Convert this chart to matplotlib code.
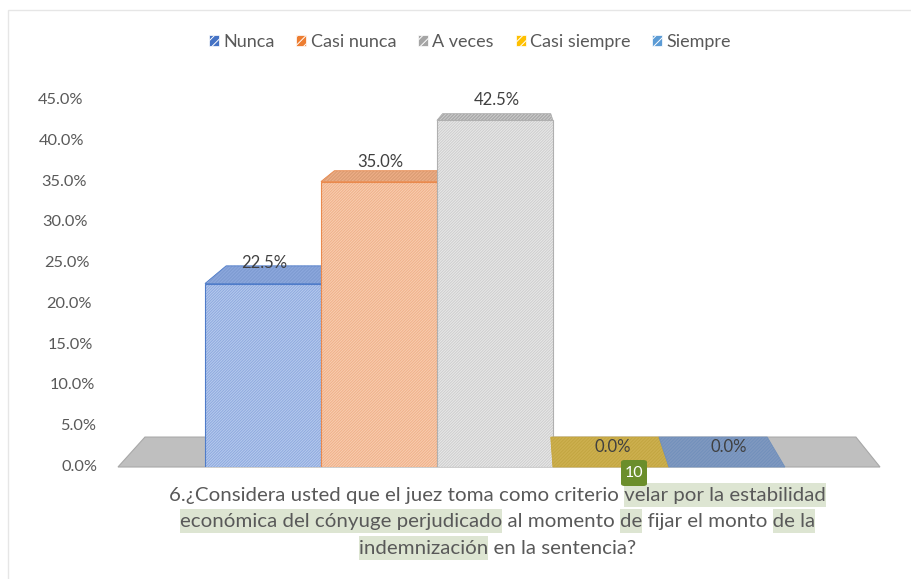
import matplotlib
matplotlib.use('Agg')
import matplotlib.pyplot as plt
from matplotlib.patches import Polygon, Rectangle, Patch, FancyBboxPatch

# ---------------- data ----------------
categories = ['Nunca', 'Casi nunca', 'A veces', 'Casi siempre', 'Siempre']
values = [22.5, 35.0, 42.5, 0.0, 0.0]
value_labels = ['22.5%', '35.0%', '42.5%', '0.0%', '0.0%']
ytick_values = [0, 5, 10, 15, 20, 25, 30, 35, 40, 45]
ytick_labels = ['0.0%', '5.0%', '10.0%', '15.0%', '20.0%', '25.0%',
                '30.0%', '35.0%', '40.0%', '45.0%']
title_lines = [
    [("6.¿Considera usted que el juez toma como criterio ", False),
     ("velar por la estabilidad", True)],
    [("económica del cónyuge perjudicado", True), (" al momento ", False),
     ("de", True), (" fijar el monto ", False), ("de la", True)],
    [("indemnización", True), (" en la sentencia?", False)],
]
badge_text = '10'

# ---------------- style ----------------
FONT = ['Lato', 'DejaVu Sans']
TXT = '#595959'
front_colors = ['#b7cbee', '#f9ceb1', '#e9e9e9', '#cdb050', '#8099c0']
hatch_colors = ['#8ea9de', '#efb089', '#cdcdcd', '#c2a540', '#7190bb']
top_colors = ['#7f9cd2', '#dc9d74', '#a9a9a9', '#cdb050', '#8099c0']
edge_colors = ['#4f7cc9', '#e98a4e', '#b0b0b0', '#c8a63a', '#7190bb']
legend_colors = ['#4472c4', '#ed7d31', '#a5a5a5', '#ffc000', '#5b9bd5']

plt.rcParams['font.family'] = FONT
plt.rcParams['hatch.linewidth'] = 0.7

W_PX, H_PX = 911, 579
fig = plt.figure(figsize=(W_PX / 100, H_PX / 100), dpi=100)
fig.patch.set_facecolor('white')

# axes placement (pixels): x 118..880, y(0%)=467, y(45%)=100
ax = fig.add_axes([118 / W_PX, (H_PX - 467) / H_PX, 762 / W_PX, 367 / H_PX])
ax.set_xlim(-1.25, 5.32)
ax.set_ylim(0, 45)
ax.axis('off')

# perspective helpers (vanishing point in data coords)
VX, VY, K = 2.22, 54.8, 0.067


def back(x, y):
    return (x + K * (VX - x), y + K * (VY - y))


# floor
x0f, x1f = ax.get_xlim()
floor = Polygon([(x0f, 0), (x1f, 0), back(x1f, 0), back(x0f, 0)],
                closed=True, facecolor='#bfbfbf', edgecolor='#a8a8a8',
                linewidth=0.8, zorder=1, clip_on=False)
ax.add_patch(floor)

xs = list(range(len(categories)))
z = 2
for i, (x, v) in enumerate(zip(xs, values)):
    l, r = x - 0.5, x + 0.5
    top = Polygon([(l, v), (r, v), back(r, v), back(l, v)], closed=True,
                  facecolor=top_colors[i], edgecolor=hatch_colors[i],
                  hatch='/' * 10, linewidth=0, zorder=z, clip_on=False)
    ax.add_patch(top)
    top_o = Polygon([(l, v), (r, v), back(r, v), back(l, v)], closed=True,
                    fill=False, edgecolor=edge_colors[i], linewidth=0.6,
                    zorder=z + 0.1, clip_on=False)
    ax.add_patch(top_o)
    ax.bar([x], [v], width=1.0, color=front_colors[i], edgecolor=hatch_colors[i],
           hatch='/' * 12, linewidth=0, zorder=z + 0.2)
    ax.bar([x], [v], width=1.0, fill=False, edgecolor=edge_colors[i],
           linewidth=0.8, zorder=z + 0.3)
    z += 1

for i, (x, v) in enumerate(zip(xs, values)):
    ax.annotate(value_labels[i], (x, v), xytext=(1, 14.4),
                textcoords='offset points', ha='center', va='center',
                fontsize=12, color='#404040', zorder=20, annotation_clip=False)

# slanted y tick labels
for v, lab in zip(ytick_values, ytick_labels):
    rpx = 98 - 15 * (v / 45)
    ax.text((rpx - 118) / 762, v, lab, transform=ax.get_yaxis_transform(),
            ha='right', va='center', fontsize=11.8, color=TXT)

# legend
handles = [Patch(facecolor=c, edgecolor='white', hatch='////', linewidth=0.5)
           for c in legend_colors]
fig.legend(handles, categories, loc='center', bbox_to_anchor=(470 / W_PX, 1 - 42 / H_PX),
           ncol=5, frameon=False, fontsize=13, handlelength=0.55, handleheight=0.55,
           columnspacing=1.2, handletextpad=0.25, labelcolor=TXT)

# title with highlighted phrases
renderer = fig.canvas.get_renderer()


def width_px(s, size):
    t = fig.text(0, 0, s, fontsize=size)
    bb = t.get_window_extent(renderer)
    t.remove()
    return bb.width


def width_trail(s, size):
    return width_px(s + 'X', size) - width_px('X', size)


size = 13.0
full1 = ''.join(s for s, _ in title_lines[0])
size = size * 655 / width_px(full1, size)

centers_y = [495, 521, 548]
cx = 497.5
for line, cy in zip(title_lines, centers_y):
    full = ''.join(s for s, _ in line)
    Wl = width_px(full, size)
    xstart = cx - Wl / 2
    prefix = ''
    for seg, hl in line:
        if hl:
            xs0 = xstart + (width_trail(prefix, size) if prefix else 0)
            ws = width_px(seg, size)
            fig.patches.append(Rectangle((xs0 / W_PX, 1 - (cy + 12) / H_PX),
                                         ws / W_PX, 24 / H_PX,
                                         transform=fig.transFigure,
                                         facecolor='#dde5d2', edgecolor='none',
                                         zorder=0))
        prefix += seg
    fig.text(xstart / W_PX, 1 - (cy + 5.5) / H_PX, full, fontsize=size,
             color=TXT, ha='left', va='baseline', zorder=2)

# badge
fig.patches.append(FancyBboxPatch((621 / W_PX, 1 - 486 / H_PX), 26 / W_PX, 26 / H_PX,
                                  boxstyle='round,pad=0,rounding_size=0.004',
                                  transform=fig.transFigure, facecolor='#6b8e2b',
                                  edgecolor='none', zorder=5))
fig.text(634 / W_PX, 1 - 473 / H_PX, badge_text, color='white', fontsize=11.5,
         ha='center', va='center', zorder=6)

# faint outer border
fig.patches.append(Rectangle((8 / W_PX, -0.1), 1.2, 1 - 10 / H_PX + 0.1,
                             transform=fig.transFigure, fill=False,
                             edgecolor='#e6e6e6', linewidth=1.0, zorder=0))

fig.savefig('out.png', dpi=100)
